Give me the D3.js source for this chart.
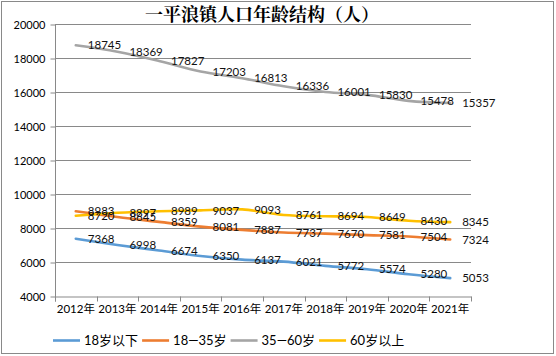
<!DOCTYPE html>
<html><head><meta charset="utf-8">
<script src="https://cdn.jsdelivr.net/npm/d3@7"></script>
<style>body{margin:0;background:#fff}svg{display:block}</style>
</head><body>
<svg id="c" width="556" height="356"></svg>
<script>
const title = "一平浪镇人口年龄结构（人）";
const years = ["2012年","2013年","2014年","2015年","2016年","2017年","2018年","2019年","2020年","2021年"];
const seriesNames = ["18岁以下","18—35岁","35—60岁","60岁以上"];
const under18 = [7368,6998,6674,6350,6137,6021,5772,5574,5280,5053];
const age18to35 = [8983,8645,8359,8081,7887,7737,7670,7581,7504,7324];
const age35to60 = [18745,18369,17827,17203,16813,16336,16001,15830,15478,15357];
const over60 = [8720,8897,8989,9037,9093,8761,8694,8649,8430,8345];
const yTicks = [4000,6000,8000,10000,12000,14000,16000,18000,20000];
const colors = ["#5B9BD5","#ED7D31","#A5A5A5","#FFC000"];

const series = [under18, age18to35, age35to60, over60];
const svg = d3.select("#c");
const font = "Lato, 'Noto Sans CJK SC', sans-serif";
const gridColor = "#898989";

svg.append("rect").attr("x",1.5).attr("y",1.5).attr("width",552).attr("height",352)
  .attr("fill","#fff").attr("stroke",gridColor).attr("stroke-width",1);

const x = d3.scaleBand().domain(years).range([55,471]).padding(0);
const y = d3.scaleLinear().domain([4000,20000]).range([296,24]);
const cx = d => x(d) + x.bandwidth()/2;

// gridlines
svg.append("g").selectAll("line").data(yTicks.filter(t=>t>4000)).join("line")
  .attr("x1",55).attr("x2",471).attr("y1",d=>y(d)+0.5).attr("y2",d=>y(d)+0.5)
  .attr("stroke",gridColor).attr("stroke-width",1);

// y axis
const yAxis = svg.append("g").attr("transform","translate(55.5,0.5)")
  .call(d3.axisLeft(y).tickValues(yTicks).tickSize(5).tickPadding(5).tickFormat(d3.format("d")));
yAxis.select(".domain").attr("stroke",gridColor).attr("d","M0,"+(y(4000)+5)+"V"+y(20000));
yAxis.selectAll(".tick line").attr("stroke",gridColor);
yAxis.selectAll("text").attr("font-family",font).attr("font-size","11px").attr("fill","#000");

// x axis
const xAxis = svg.append("g").attr("transform","translate(0,"+(y(4000)+0.5)+")")
  .call(d3.axisBottom(x).tickSize(0).tickPadding(8));
xAxis.select(".domain").attr("stroke",gridColor);
xAxis.selectAll("text").attr("font-family",font).attr("font-size","11.5px").attr("fill","#000");
// boundary tick marks
const bounds = years.map(d=>x(d)).concat([x(years[years.length-1])+x.bandwidth()]);
xAxis.selectAll("line.b").data(bounds).join("line").attr("class","b")
  .attr("x1",d=>Math.round(d)+0.5).attr("x2",d=>Math.round(d)+0.5).attr("y1",0).attr("y2",5)
  .attr("stroke",gridColor);

// lines
const line = d3.line().x((d,i)=>cx(years[i])).y(d=>y(d)).curve(d3.curveCatmullRom.alpha(0.5));
series.forEach((s,k)=>{
  svg.append("path").datum(s).attr("d",line).attr("fill","none")
    .attr("stroke",colors[k]).attr("stroke-width",2.6).attr("stroke-linecap","round");
});
// labels
series.forEach((s,k)=>{
  svg.append("g").selectAll("text").data(s).join("text")
    .attr("x",(d,i)=>cx(years[i])+12).attr("y",d=>y(d)).attr("dy","0.36em")
    .attr("font-family",font).attr("font-size","11.5px").attr("fill","#111")
    .text(d=>d);
});

// title
svg.append("text").attr("x",262).attr("y",21).attr("text-anchor","middle")
  .attr("font-family","'Noto Serif CJK SC','Noto Sans CJK SC',serif").attr("font-weight","bold")
  .attr("font-size","18px").attr("fill","#000").text(title);

// legend
let lx = 53;
const ly = 340.5;
seriesNames.forEach((n,k)=>{
  svg.append("line").attr("x1",lx).attr("x2",lx+27).attr("y1",ly).attr("y2",ly)
    .attr("stroke",colors[k]).attr("stroke-width",2.6);
  const t = svg.append("text").attr("x",lx+31).attr("y",ly).attr("dy","0.36em")
    .attr("font-family",font).attr("font-size","13px").attr("fill","#000").text(n);
  lx = lx + 31 + t.node().getComputedTextLength() + 4;
});
</script>
</body></html>
